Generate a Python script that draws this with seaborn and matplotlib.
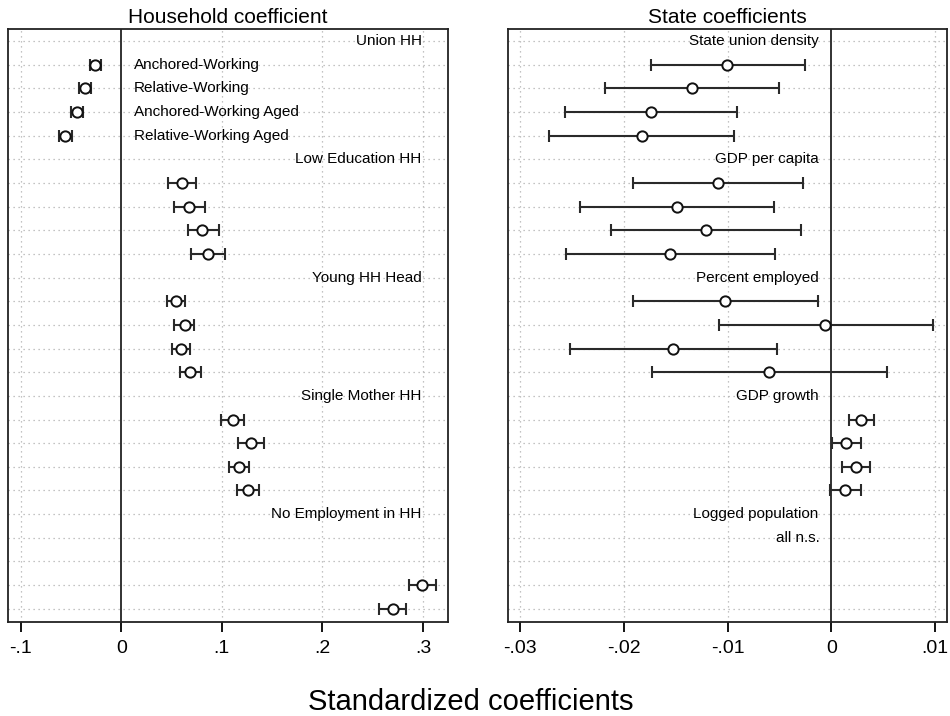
import numpy as np
import pandas as pd
import seaborn as sns
import matplotlib
matplotlib.use("Agg")
from matplotlib import pyplot as plt

sns.set_theme(style="white")
plt.rcParams['font.family'] = ['Liberation Sans', 'DejaVu Sans']
plt.rcParams['text.color'] = 'black'
plt.rcParams['xtick.color'] = 'black'

# 家庭系数 (左图)
hh_rows = [2, 3, 4, 5, 7, 8, 9, 10, 12, 13, 14, 15, 17, 18, 19, 20, 24, 25]
hh_coef = [-0.0258, -0.0357, -0.0440, -0.0556,
           0.0603, 0.0678, 0.0807, 0.0861,
           0.0546, 0.0629, 0.0593, 0.0685,
           0.1106, 0.1288, 0.1169, 0.1255,
           0.2992, 0.2698]
hh_lo = [-0.0310, -0.0420, -0.0503, -0.0623,
         0.0464, 0.0526, 0.0659, 0.0692,
         0.0457, 0.0523, 0.0500, 0.0586,
         0.0990, 0.1165, 0.1070, 0.1152,
         0.2863, 0.2565]
hh_hi = [-0.0206, -0.0298, -0.0377, -0.0490,
         0.0738, 0.0834, 0.0967, 0.1033,
         0.0636, 0.0728, 0.0688, 0.0788,
         0.1225, 0.1417, 0.1274, 0.1367,
         0.3125, 0.2833]
hh_groups = ["Union HH", "Low Education HH", "Young HH Head",
             "Single Mother HH", "No Employment in HH"]
model_labels = ["Anchored-Working", "Relative-Working",
                "Anchored-Working Aged", "Relative-Working Aged"]

# 州系数 (右图)
st_rows = [2, 3, 4, 5, 7, 8, 9, 10, 12, 13, 14, 15, 17, 18, 19, 20]
st_coef = [-0.01003, -0.01346, -0.01736, -0.01825,
           -0.01093, -0.01491, -0.01211, -0.01553,
           -0.01025, -0.00058, -0.01524, -0.00598,
           0.00286, 0.00145, 0.00238, 0.00135]
st_lo = [-0.01742, -0.02185, -0.02565, -0.02719,
         -0.01910, -0.02423, -0.02127, -0.02558,
         -0.01915, -0.01086, -0.02523, -0.01726,
         0.00167, 0.00003, 0.00103, -0.00013]
st_hi = [-0.00254, -0.00504, -0.00906, -0.00935,
         -0.00276, -0.00556, -0.00292, -0.00543,
         -0.00131, 0.00978, -0.00521, 0.00537,
         0.00415, 0.00286, 0.00373, 0.00283]
st_groups = ["State union density", "GDP per capita", "Percent employed",
             "GDP growth", "Logged population"]
group_rows = [1, 6, 11, 16, 21]

hh = pd.DataFrame({'row': hh_rows, 'coef': hh_coef, 'lo': hh_lo, 'hi': hh_hi})
st = pd.DataFrame({'row': st_rows, 'coef': st_coef, 'lo': st_lo, 'hi': st_hi})

fig = plt.figure(figsize=(9.5, 7.16), dpi=100)
ax1 = fig.add_axes([0.0084, 0.1313, 0.4632, 0.8282])
ax2 = fig.add_axes([0.5344, 0.1313, 0.4624, 0.8282])

grid_kw = dict(color='#b0b0b0', linestyle=(0, (1, 3)), linewidth=0.9)


def panel(ax, df, xlim, ticks, ticklabels, title):
    for t in ticks:
        if t != 0:
            ax.axvline(t, zorder=0, **grid_kw)
    for r in range(1, 26):
        ax.axhline(r, zorder=0, **grid_kw)
    ax.axvline(0, color='#222222', linewidth=1.3, zorder=1)
    ax.errorbar(df['coef'], df['row'],
                xerr=[df['coef'] - df['lo'], df['hi'] - df['coef']],
                fmt='none', ecolor='#2a2a2a', elinewidth=1.5,
                capsize=4, capthick=1.5, zorder=2)
    sns.scatterplot(data=df, x='coef', y='row', ax=ax, marker='o', s=55,
                    facecolor='white', edgecolor='#111111', linewidth=1.4,
                    zorder=3, legend=False)
    ax.set_xlim(*xlim)
    ax.set_ylim(25.56, 0.49)
    ax.set_xticks(ticks)
    ax.set_xticklabels(ticklabels, fontsize=14)
    ax.set_yticks([])
    ax.set_xlabel('')
    ax.set_ylabel('')
    ax.tick_params(axis='x', direction='out', length=7, width=1.3,
                   bottom=True, pad=6, colors='black')
    for sp in ax.spines.values():
        sp.set_color('#222222')
        sp.set_linewidth(1.3)
    ax.set_title(title, fontsize=15, pad=4)


panel(ax1, hh, (-0.1126, 0.3248), [-0.1, 0, 0.1, 0.2, 0.3],
      ['-.1', '0', '.1', '.2', '.3'], 'Household coefficient')
panel(ax2, st, (-0.03122, 0.01116), [-0.03, -0.02, -0.01, 0, 0.01],
      ['-.03', '-.02', '-.01', '0', '.01'], 'State coefficients')

for r, lab in zip(group_rows, hh_groups):
    ax1.text(0.2985, r, lab, ha='right', va='center', fontsize=11)
for i, lab in enumerate(model_labels):
    ax1.text(0.0129, i + 2, lab, ha='left', va='center', fontsize=11)
for r, lab in zip(group_rows, st_groups):
    ax2.text(-0.00125, r, lab, ha='right', va='center', fontsize=11)
ax2.text(-0.0011, 22, 'all n.s.', ha='right', va='center', fontsize=11)

fig.text(0.495, 0.0084, 'Standardized coefficients', ha='center',
         va='baseline', fontsize=21)

fig.savefig('out.png', dpi=100)
